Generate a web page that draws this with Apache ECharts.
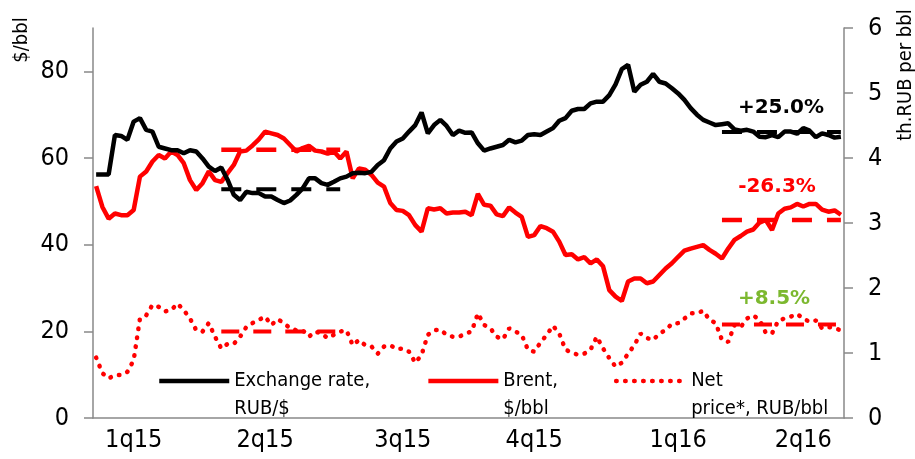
<!DOCTYPE html>
<html>
<head>
<meta charset="utf-8">
<script src="https://cdn.jsdelivr.net/npm/echarts@6/dist/echarts.min.js"></script>
<style>
  html, body { margin: 0; padding: 0; background: #fff; }
  #chart { width: 915px; height: 459px; }
</style>
</head>
<body>
<div id="chart"></div>
<script>
// quarters on the x axis, 20 readings per quarter
const quarters = ['1q15', '2q15', '3q15', '4q15', '1q16', '2q16'];
const perQuarter = 20;

// Exchange rate, RUB/$ (left axis)
const exchange = [
  56.2, 56.2, 56.2, 65.3, 65.1, 64.2, 68.4, 69.2, 66.5, 66.1, 62.6, 62.2, 61.8, 61.8, 61.1, 61.8, 61.5, 59.9, 58.0, 57.0,
  57.8, 55.0, 51.5, 50.3, 52.2, 51.9, 51.9, 51.1, 51.1, 50.3, 49.6, 50.2, 51.5, 53.0, 55.3, 55.3, 54.2, 53.8, 54.5, 55.3,
  55.7, 56.5, 56.6, 56.5, 56.8, 58.4, 59.5, 62.2, 63.8, 64.5, 66.1, 67.6, 70.5, 65.7, 67.6, 68.8, 67.4, 65.3, 66.3, 65.8,
  65.9, 63.4, 61.7, 62.2, 62.6, 63.0, 64.2, 63.6, 64.0, 65.3, 65.5, 65.3, 66.1, 66.9, 68.6, 69.2, 70.9, 71.3, 71.3, 72.6,
  73.0, 73.0, 74.5, 77.0, 80.5, 81.5, 75.3, 76.9, 77.6, 79.4, 77.6, 77.2, 76.1, 74.9, 73.4, 71.5, 70.0, 68.8, 68.2, 67.6,
  67.8, 68.0, 66.6, 66.3, 66.5, 66.1, 64.9, 64.8, 65.3, 64.8, 66.1, 66.1, 65.6, 66.9, 66.3, 64.8, 65.7, 65.3, 64.7, 64.9
];

// Brent, $/bbl (left axis)
const brent = [
  53.5, 48.7, 46.0, 47.2, 46.8, 46.8, 48.0, 55.7, 56.9, 59.2, 60.7, 59.9, 61.5, 60.7, 58.8, 54.9, 52.6, 54.2, 56.9, 54.9,
  54.5, 56.5, 58.4, 61.5, 61.7, 62.9, 64.3, 66.1, 65.7, 65.3, 64.5, 63.0, 61.5, 62.3, 62.8, 61.7, 61.5, 61.0, 61.5, 59.9,
  61.5, 55.3, 57.6, 57.3, 56.1, 54.3, 53.4, 49.6, 48.0, 47.8, 46.8, 44.5, 43.0, 48.4, 48.1, 48.4, 47.2, 47.4, 47.4, 47.6,
  46.8, 51.7, 49.2, 49.0, 47.0, 46.6, 48.6, 47.4, 46.4, 41.8, 42.2, 44.3, 43.8, 43.0, 40.7, 37.6, 37.8, 36.6, 37.1, 35.7,
  36.6, 35.0, 29.5, 28.0, 27.0, 31.5, 32.2, 32.2, 31.1, 31.5, 33.0, 34.5, 35.7, 37.2, 38.6, 39.1, 39.5, 39.9, 38.8, 37.9,
  36.8, 39.1, 41.1, 42.0, 43.0, 43.5, 45.1, 45.7, 43.4, 47.2, 48.3, 48.6, 49.4, 48.8, 49.4, 49.4, 48.1, 47.6, 47.9, 46.9
];

// Net price, th.RUB/bbl (right axis)
const netPrice = [
  0.93, 0.69, 0.61, 0.66, 0.66, 0.71, 0.89, 1.53, 1.58, 1.74, 1.71, 1.64, 1.66, 1.76, 1.66, 1.53, 1.35, 1.33, 1.46, 1.25,
  1.07, 1.14, 1.14, 1.25, 1.40, 1.46, 1.51, 1.56, 1.43, 1.52, 1.46, 1.38, 1.35, 1.35, 1.25, 1.33, 1.30, 1.23, 1.28, 1.33,
  1.35, 1.12, 1.20, 1.12, 1.10, 0.99, 1.10, 1.12, 1.06, 1.07, 1.02, 0.85, 0.97, 1.28, 1.35, 1.36, 1.28, 1.25, 1.25, 1.30,
  1.33, 1.61, 1.43, 1.38, 1.25, 1.21, 1.38, 1.33, 1.28, 1.05, 1.02, 1.16, 1.28, 1.42, 1.30, 1.05, 1.01, 0.97, 0.99, 1.05,
  1.25, 1.07, 0.92, 0.79, 0.85, 0.99, 1.12, 1.30, 1.23, 1.20, 1.30, 1.35, 1.45, 1.46, 1.53, 1.61, 1.61, 1.65, 1.51, 1.46,
  1.20, 1.17, 1.43, 1.40, 1.53, 1.58, 1.51, 1.31, 1.30, 1.50, 1.53, 1.56, 1.60, 1.53, 1.48, 1.50, 1.38, 1.40, 1.38, 1.35
];

// quarterly averages (dashed), only 2q15 and 2q16 shown
const exchangeAvg = [null, 52.8, null, null, null, 66.0];
const brentAvg = [null, 61.9, null, null, null, 45.7];
const netAvg = [null, 1.33, null, null, null, 1.44];

const changes = ['+25.0%', '-26.3%', '+8.5%'];
const names = ['Exchange rate,\nRUB/$', 'Brent,\n$/bbl', 'Net\nprice*, RUB/bbl'];

const FONT = '"DejaVu Sans Condensed", "DejaVu Sans", sans-serif';
const BOLD = '"DejaVu Sans", sans-serif';
const AXIS_GRAY = '#898989';

const cats = exchange.map((v, i) => quarters[Math.floor(i / perQuarter)] + ' ' + (i % perQuarter));
const labelAt = [6, 27, 49, 70, 93, 113];
const expand = avg => cats.map((c, i) => avg[Math.floor(i / perQuarter)]);

const chart = echarts.init(document.getElementById('chart'), null, { renderer: 'canvas' });

function note(x, y, text, color, opts) {
  return Object.assign({
    type: 'text', x: x, y: y,
    style: { text: text, fill: color, fontFamily: BOLD, fontWeight: 'bold', fontSize: 20,
             textAlign: 'center', textVerticalAlign: 'middle' }
  }, opts || {});
}

chart.setOption({
  animation: false,
  grid: { left: 93, right: 71, top: 28, bottom: 41 },
  legend: {
    data: names,
    left: 157,
    top: 339,
    padding: 0,
    itemWidth: 70,
    itemHeight: 14,
    itemGap: 56,
    itemStyle: { opacity: 0 },
    lineStyle: { width: 4.5 },
    formatter: n => '\n' + n,
    textStyle: { fontFamily: FONT, fontSize: 20, lineHeight: 28, color: '#000' }
  },
  xAxis: {
    type: 'category',
    data: cats,
    boundaryGap: true,
    axisLine: { lineStyle: { color: AXIS_GRAY, width: 1.5 } },
    axisTick: { interval: i => i % perQuarter === 0, length: 6, lineStyle: { color: AXIS_GRAY, width: 1.5 } },
    axisLabel: {
      interval: i => labelAt.includes(i),
      formatter: v => v.split(' ')[0],
      fontFamily: FONT, fontSize: 25, color: '#000', margin: 10
    },
    splitLine: { show: false }
  },
  yAxis: [
    {
      type: 'value', min: 0, max: 90, interval: 20,
      axisLine: { show: true, lineStyle: { color: AXIS_GRAY, width: 1.5 } },
      axisTick: { show: true, length: 9, customValues: [0, 20, 40, 60, 80], lineStyle: { color: AXIS_GRAY, width: 1.5 } },
      axisLabel: { customValues: [0, 20, 40, 60, 80], fontFamily: FONT, fontSize: 25, color: '#000', margin: 24 },
      splitLine: { show: false }
    },
    {
      type: 'value', min: 0, max: 6, interval: 1, position: 'right',
      axisLine: { show: true, lineStyle: { color: AXIS_GRAY, width: 1.5 } },
      axisTick: { show: true, length: 9, lineStyle: { color: AXIS_GRAY, width: 1.5 } },
      axisLabel: { fontFamily: FONT, fontSize: 25, color: '#000', margin: 24 },
      splitLine: { show: false }
    }
  ],
  series: [
    {
      name: names[2], type: 'line', yAxisIndex: 1, data: netPrice, symbol: 'none',
      lineStyle: { color: '#ff0000', width: 4.5, type: [0.5, 8.5], cap: 'round' },
      itemStyle: { color: '#ff0000' }
    },
    {
      name: 'netAvg', type: 'line', yAxisIndex: 1, data: expand(netAvg), symbol: 'none',
      lineStyle: { color: '#ff0000', width: 4, type: [18, 14] }
    },
    {
      name: 'brentAvg', type: 'line', data: expand(brentAvg), symbol: 'none',
      lineStyle: { color: '#ff0000', width: 4.5, type: [20, 15] }
    },
    {
      name: names[1], type: 'line', data: brent, symbol: 'none',
      lineStyle: { color: '#ff0000', width: 4.5 }, itemStyle: { color: '#ff0000' }
    },
    {
      name: 'exchAvg', type: 'line', data: expand(exchangeAvg), symbol: 'none',
      lineStyle: { color: '#000', width: 4, type: [20, 15] }
    },
    {
      name: names[0], type: 'line', data: exchange, symbol: 'none',
      lineStyle: { color: '#000', width: 4.5 }, itemStyle: { color: '#000' }
    }
  ],
  graphic: [
    { type: 'text', x: 22, y: 40, rotation: Math.PI / 2,
      style: { text: '$/bbl', fill: '#000', fontFamily: FONT, fontSize: 20, textAlign: 'center', textVerticalAlign: 'middle' } },
    { type: 'text', x: 906, y: 75, rotation: Math.PI / 2,
      style: { text: 'th.RUB per bbl', fill: '#000', fontFamily: FONT, fontSize: 20, textAlign: 'center', textVerticalAlign: 'middle' } },
    note(781, 108, changes[0], '#000'),
    note(777, 187, changes[1], '#ff0000'),
    note(774, 299, changes[2], '#7cb82f')
  ]
});
</script>
</body>
</html>
